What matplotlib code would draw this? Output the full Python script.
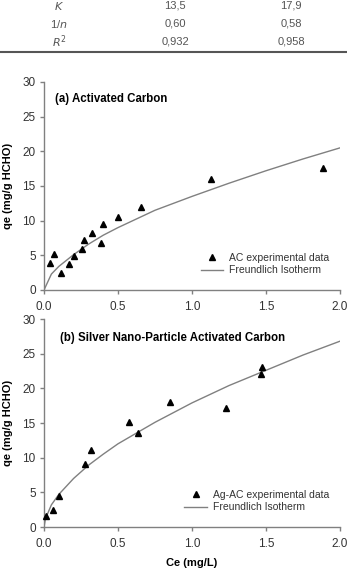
import matplotlib
matplotlib.use("Agg")
import matplotlib.pyplot as plt

plt.rcParams["font.family"] = ["Liberation Sans", "DejaVu Sans"]

# table (Freundlich parameters)
row_labels = ["$\\it{K}$", "1/$\\it{n}$", "$\\it{R}^2$"]
col_ac = ["13,5", "0,60", "0,932"]
col_agac = ["17,9", "0,58", "0,958"]

# (a) Activated Carbon - experimental data
ac_ce = [0.038, 0.065, 0.113, 0.169, 0.205, 0.257, 0.268, 0.322, 0.386, 0.397, 0.503, 0.656, 1.127, 1.883]
ac_qe = [3.9, 5.2, 2.5, 3.7, 4.9, 5.9, 7.2, 8.2, 6.8, 9.5, 10.5, 12.0, 16.0, 17.6]
# (a) Freundlich curve
ac_fit_ce = [0.0, 0.05, 0.1, 0.2, 0.3, 0.4, 0.5, 0.75, 1.0, 1.25, 1.5, 1.75, 2.0]
ac_fit_qe = [0.0, 2.3, 3.4, 5.1, 6.6, 7.9, 9.0, 11.5, 13.5, 15.4, 17.2, 18.9, 20.5]

# (b) Silver nano-particle AC - experimental data
ag_ce = [0.011, 0.059, 0.101, 0.280, 0.318, 0.575, 0.634, 0.850, 1.233, 1.466, 1.475]
ag_qe = [1.6, 2.4, 4.5, 9.1, 11.1, 15.1, 13.5, 18.1, 17.1, 22.1, 23.1]
# (b) Freundlich curve
ag_fit_ce = [0.0, 0.01, 0.05, 0.1, 0.2, 0.3, 0.4, 0.5, 0.75, 1.0, 1.25, 1.5, 1.75, 2.0]
ag_fit_qe = [0.0, 1.2, 3.2, 4.7, 7.0, 8.9, 10.5, 12.0, 15.1, 17.9, 20.4, 22.6, 24.8, 26.8]

W, H = 347, 570
fig = plt.figure(figsize=(W / 100, H / 100), dpi=100)

txt_col = "#555555"
ys = [6, 24, 42]
for y, lab, c1, c2 in zip(ys, row_labels, col_ac, col_agac):
    fy = 1 - y / H
    fig.text(59 / W, fy, lab, ha="center", va="center", fontsize=8, color=txt_col)
    fig.text(175 / W, fy, c1, ha="center", va="center", fontsize=8, color=txt_col)
    fig.text(291 / W, fy, c2, ha="center", va="center", fontsize=8, color=txt_col)
fig.add_artist(plt.Line2D([0, 1], [1 - 52 / H] * 2, color="#555555", lw=1.5,
                          transform=fig.transFigure))

axes_spec = [
    (290, ac_ce, ac_qe, ac_fit_ce, ac_fit_qe, "(a) Activated Carbon", 0.037, 0.918,
     "AC experimental data"),
    (527, ag_ce, ag_qe, ag_fit_ce, ag_fit_qe, "(b) Silver Nano-Particle Activated Carbon",
     0.054, 0.909, "Ag-AC experimental data"),
]

for bottom_px, xe, ye, xf, yf, title, tx, ty, lab in axes_spec:
    ax = fig.add_axes([44 / W, 1 - bottom_px / H, 296 / W, 208 / H])
    ax.plot(xe, ye, "^", color="black", ms=5, label=lab, clip_on=False, zorder=3)
    ax.plot(xf, yf, "-", color="#808080", lw=1.0, label="Freundlich Isotherm")
    ax.set_xlim(0, 2)
    ax.set_ylim(0, 30)
    ax.set_xticks([0, 0.5, 1.0, 1.5, 2.0])
    ax.set_xticklabels(["0.0", "0.5", "1.0", "1.5", "2.0"])
    ax.set_yticks(range(0, 31, 5))
    for s in ["top", "right"]:
        ax.spines[s].set_visible(False)
    for s in ["left", "bottom"]:
        ax.spines[s].set_color("#808080")
        ax.spines[s].set_linewidth(1.0)
    ax.tick_params(direction="out", length=3, width=1.0, color="#808080",
                   labelsize=8.5, labelcolor="#333333")
    ax.tick_params(axis="x", pad=5)
    ax.tick_params(axis="y", pad=3)
    ax.set_ylabel("qe (mg/g HCHO)", fontsize=8, fontweight="bold", labelpad=7)
    ax.text(tx, ty, title, transform=ax.transAxes, fontsize=8.3, fontweight="bold",
            ha="left", va="center")
    leg = ax.legend(loc="lower right", bbox_to_anchor=(0.985, 0.04), frameon=False,
                    fontsize=7.5, handlelength=2.2, handletextpad=0.55,
                    labelspacing=0.25, numpoints=1, borderaxespad=0.2)
    for t in leg.get_texts():
        t.set_color("#333333")

ax.set_xlabel("Ce (mg/L)", fontsize=8, fontweight="bold", labelpad=6)

fig.savefig("out.png", dpi=100)
